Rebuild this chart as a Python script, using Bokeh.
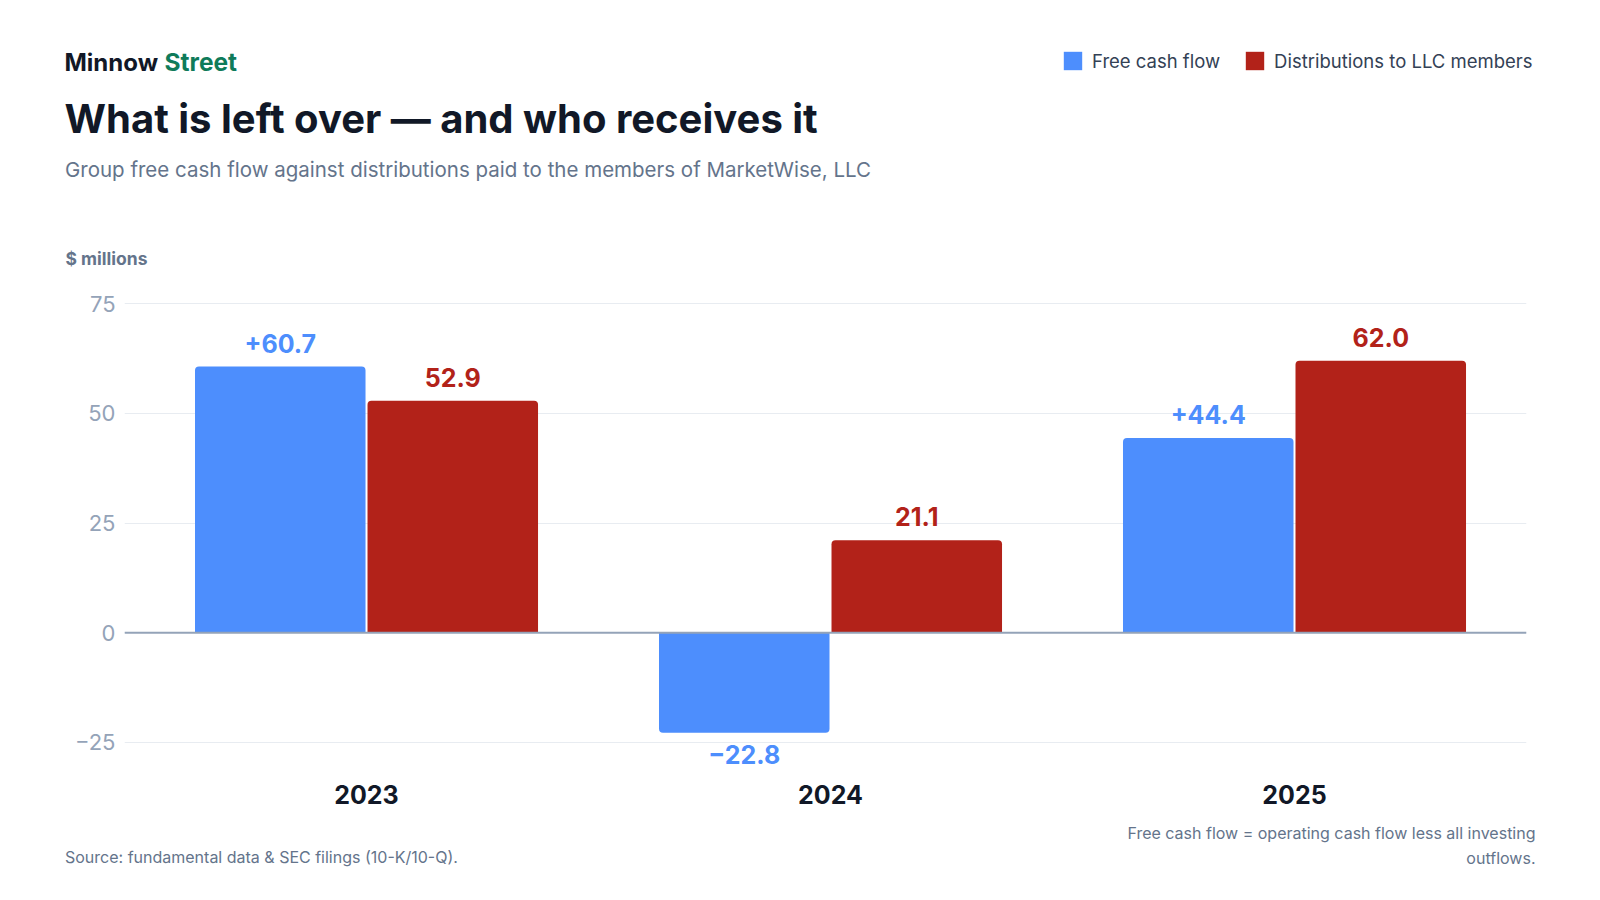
from bokeh.plotting import figure
from bokeh.layouts import column
from bokeh.models import (Range1d, FixedTicker, Label, Legend, LegendItem,
                          ColumnDataSource, CDSView, BooleanFilter, Span)
from bokeh.transform import dodge
from bokeh.core.properties import value
from bokeh.embed import file_html
from bokeh.resources import INLINE

# ---- data ----
years = ["2023", "2024", "2025"]
free_cash_flow = [60.7, -22.8, 44.4]
distributions = [52.9, 21.1, 62.0]
fcf_labels = ["+60.7", "\u221222.8", "+44.4"]
dist_labels = ["52.9", "21.1", "62.0"]
y_ticks = [-25, 0, 25, 50, 75]
y_tick_labels = ["\u221225", "0", "25", "50", "75"]
series_names = ["Free cash flow", "Distributions to LLC members"]

# ---- styles ----
BLUE = "#4d8efd"
RED = "#b22219"
GREEN = "#0f7b5a"
DARK = "#111827"
MUTED = "#64748b"
FONT = "Inter"
W_PAGE = 1584

xs = list(range(len(years)))
src = ColumnDataSource(dict(x=xs, year=years, fcf=free_cash_flow, dist=distributions,
                            fcf_label=fcf_labels, dist_label=dist_labels))


def blank(height, y0, y1):
    f = figure(width=W_PAGE, height=height, x_range=Range1d(0, W_PAGE),
               y_range=Range1d(y1, y0), min_border=0, x_axis_type=None,
               y_axis_type=None, toolbar_location=None, output_backend="svg",
               outline_line_color=None, background_fill_color="white",
               border_fill_color="white", frame_align=False)
    return f


def lab(fig, text, x, y, size, color, style="normal", align="left"):
    fig.add_layout(Label(text=text, x=x, y=y, text_font=FONT, text_font_size=size,
                         text_color=color, text_font_style=style, text_align=align,
                         text_baseline="middle"))


# ---------------- header ----------------
header = blank(272, 0, 272)
lab(header, "Minnow", 64, 61.5, "24px", DARK, "bold")
lab(header, "Street", 164, 61.5, "24.5px", GREEN, "bold")
lab(header, "What is left over \u2014 and who receives it", 64, 117.5, "40px", DARK, "bold")
lab(header, "Group free cash flow against distributions paid to the members of MarketWise, LLC",
    64.5, 168.7, "20.5px", MUTED)
lab(header, "$ millions", 65, 258, "17.5px", MUTED, "bold")

# legend keys: hidden renderers of the real series, only used by the legend
k1 = header.vbar(x="x", top="fcf", width=0.1, source=src, fill_color=BLUE,
                 line_color=None, visible=False)
k2 = header.vbar(x="x", top="dist", width=0.1, source=src, fill_color=RED,
                 line_color=None, visible=False)
legend = Legend(items=[LegendItem(label=series_names[0], renderers=[k1]),
                       LegendItem(label=series_names[1], renderers=[k2])],
                location=(1061, 200), orientation="horizontal",
                glyph_width=23, glyph_height=23, label_standoff=8, spacing=23,
                padding=0, margin=0, border_line_color=None, background_fill_alpha=0,
                inactive_fill_alpha=0, click_policy="none",
                label_text_font=FONT, label_text_font_size="18.5px",
                label_text_color="#334155")
header.add_layout(legend)

# ---------------- main chart ----------------
pos_fcf = CDSView(filter=BooleanFilter([v >= 0 for v in free_cash_flow]))
neg_fcf = CDSView(filter=BooleanFilter([v < 0 for v in free_cash_flow]))
pos_dist = CDSView(filter=BooleanFilter([v >= 0 for v in distributions]))

p = figure(width=W_PAGE, height=546,
           x_range=Range1d(-0.5216, 2.5), y_range=Range1d(-30.93, 80.99),
           output_backend="svg", toolbar_location=None,
           min_border_left=124, min_border_right=58,
           min_border_top=5, min_border_bottom=50,
           background_fill_color="white", border_fill_color="white",
           outline_line_color=None, frame_align=False)

OFF = 0.1859
W = 0.3675
blue_pos = p.vbar(x=dodge("x", -OFF), top="fcf", bottom=0, width=W, source=src,
                  view=pos_fcf, fill_color=BLUE, line_color=None,
                  border_radius=(4, 4, 0, 0))
blue_neg = p.vbar(x=dodge("x", -OFF), top=0, bottom="fcf", width=W, source=src,
                  view=neg_fcf, fill_color=BLUE, line_color=None,
                  border_radius=(0, 0, 4, 4))
red_bars = p.vbar(x=dodge("x", OFF), top="dist", bottom=0, width=W, source=src,
                  view=pos_dist, fill_color=RED, line_color=None,
                  border_radius=(4, 4, 0, 0))

p.add_layout(Span(location=0, dimension="width", line_color="#94a3b8", line_width=2))

lbl_kw = dict(text_font=value(FONT), text_font_style="bold", text_font_size="25px",
              text_align="center", text_baseline="middle", source=src)
p.text(x=dodge("x", -OFF), y="fcf", text="fcf_label", view=pos_fcf, y_offset=-23.4,
       text_color=BLUE, **lbl_kw)
p.text(x=dodge("x", -OFF), y="fcf", text="fcf_label", view=neg_fcf, y_offset=22,
       text_color=BLUE, **lbl_kw)
p.text(x=dodge("x", OFF), y="dist", text="dist_label", view=pos_dist, y_offset=-23.4,
       text_color=RED, **lbl_kw)

ya = p.yaxis[0]
ya.ticker = FixedTicker(ticks=y_ticks)
ya.major_label_overrides = dict(zip(y_ticks, y_tick_labels))
ya.axis_line_color = None
ya.major_tick_line_color = None
ya.minor_tick_line_color = None
ya.major_tick_out = 0
ya.major_tick_in = 0
ya.major_label_standoff = 9
ya.major_label_text_font = FONT
ya.major_label_text_font_size = "22px"
ya.major_label_text_color = "#94a3b8"

xa = p.xaxis[0]
xa.ticker = FixedTicker(ticks=xs)
xa.major_label_overrides = dict(zip(xs, years))
xa.axis_line_color = None
xa.major_tick_line_color = None
xa.minor_tick_line_color = None
xa.major_tick_out = 0
xa.major_tick_in = 0
xa.major_label_standoff = 16
xa.major_label_text_font = FONT
xa.major_label_text_font_style = "bold"
xa.major_label_text_font_size = "25px"
xa.major_label_text_color = DARK

p.xgrid.grid_line_color = None
p.ygrid.ticker = FixedTicker(ticks=y_ticks)
p.ygrid.grid_line_color = "#e8ecf1"
p.ygrid.grid_line_width = 1

# ---------------- footer ----------------
footer = blank(66, 818, 884)
lab(footer, "Source: fundamental data & SEC filings (10-K/10-Q).", 64.5, 856.5, "16px", MUTED)
lab(footer, "Free cash flow = operating cash flow less all investing", 1535, 832.7, "16px",
    MUTED, align="right")
lab(footer, "outflows.", 1535, 857.2, "16px", MUTED, align="right")

page = column(header, p, footer, spacing=0)
open("out.html", "w").write(file_html(page, INLINE))
